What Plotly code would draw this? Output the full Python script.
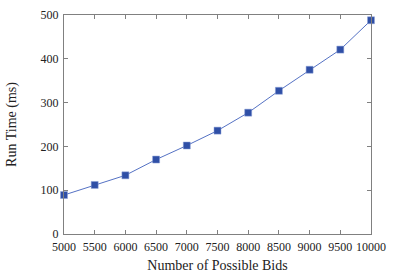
import plotly.graph_objects as go

bids = [5000, 5500, 6000, 6500, 7000, 7500, 8000, 8500, 9000, 9500, 10000]
run_time = [89, 112, 134, 170, 202, 236, 277, 327, 375, 421, 488]
x_ticks = [5000, 5500, 6000, 6500, 7000, 7500, 8000, 8500, 9000, 9500, 10000]
x_tick_labels = ["5000", "5500", "6000", "6500", "7000", "7500", "8000", "8500", "9000", "9500", "10000"]
y_ticks = [0, 100, 200, 300, 400, 500]
y_tick_labels = ["0", "100", "200", "300", "400", "500"]

fig = go.Figure()
fig.add_trace(go.Scatter(
    x=bids, y=run_time, mode="lines+markers",
    line=dict(color="#5572c4", width=1),
    marker=dict(symbol="square", size=7, color="#2f4fa6",
                line=dict(color="#8fa3d8", width=0.5)),
    showlegend=False, cliponaxis=False,
))

font = dict(family="Liberation Serif, Times New Roman, serif", color="#222222")
axis_common = dict(
    showgrid=False, zeroline=False, showline=True, linecolor="#808080", linewidth=1,
    mirror="ticks", ticks="inside", ticklen=4, tickcolor="#808080",
    tickfont=dict(size=12, **font), automargin=False,
)
fig.update_xaxes(range=[5000, 10000], tickvals=x_ticks, ticktext=x_tick_labels,
                 ticklabelstandoff=2,
                 title=dict(text="Number of Possible Bids", font=dict(size=14, **font), standoff=6),
                 **axis_common)
fig.update_yaxes(range=[0, 500], tickvals=y_ticks, ticktext=y_tick_labels,
                 ticklabelstandoff=2,
                 title=dict(text="Run Time (ms)", font=dict(size=14, **font), standoff=20),
                 **axis_common)
fig.update_layout(
    width=395, height=276,
    margin=dict(l=64, r=24, t=15, b=42),
    plot_bgcolor="white", paper_bgcolor="white",
)
fig.write_html("out.html", config={"displayModeBar": False},
               post_script="document.body.style.margin='0';document.body.style.overflow='hidden';")
